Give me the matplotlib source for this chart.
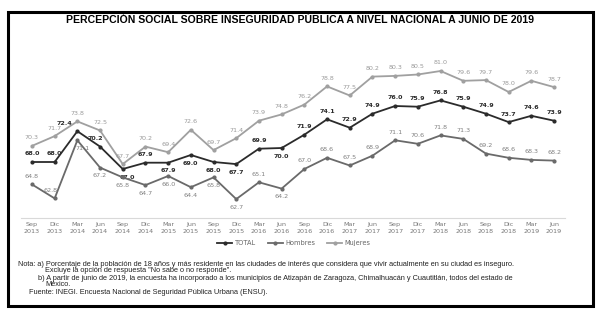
import matplotlib
matplotlib.use("Agg")
import matplotlib.pyplot as plt
from matplotlib.patches import Rectangle

periods = ["Sep\n2013", "Dic\n2013",
           "Mar\n2014", "Jun\n2014", "Sep\n2014", "Dic\n2014",
           "Mar\n2015", "Jun\n2015", "Sep\n2015", "Dic\n2015",
           "Mar\n2016", "Jun\n2016", "Sep\n2016", "Dic\n2016",
           "Mar\n2017", "Jun\n2017", "Sep\n2017", "Dic\n2017",
           "Mar\n2018", "Jun\n2018", "Sep\n2018", "Dic\n2018",
           "Mar\n2019", "Jun\n2019"]

total = [68.0, 68.0, 72.4, 70.2, 67.0, 67.9, 67.9, 69.0, 68.0, 67.7, 69.9, 70.0,
         71.9, 74.1, 72.9, 74.9, 76.0, 75.9, 76.8, 75.9, 74.9, 73.7, 74.6, 73.9]
hombres = [64.8, 62.8, 71.1, 67.2, 65.8, 64.7, 66.0, 64.4, 65.8, 62.7, 65.1, 64.2,
           67.0, 68.6, 67.5, 68.9, 71.1, 70.6, 71.8, 71.3, 69.2, 68.6, 68.3, 68.2]
mujeres = [70.3, 71.7, 73.8, 72.5, 67.7, 70.2, 69.4, 72.6, 69.7, 71.4, 73.9, 74.8,
           76.2, 78.8, 77.5, 80.2, 80.3, 80.5, 81.0, 79.6, 79.7, 78.0, 79.6, 78.7]

# which labels sit under their point
total_below = {4, 6, 7, 8, 9, 11}
hombres_below = {2, 3, 4, 5, 6, 7, 8, 9, 11}
# sideways nudges (points) for crowded labels
total_nudge = {2: -9, 3: -3, 4: 3}
hombres_nudge = {1: -3, 2: 4}

fig = plt.figure(figsize=(5.97, 3.09), dpi=100)
fig.patch.set_facecolor("white")

W, H = 597, 309
ax = fig.add_axes([20.6 / W, 1 - 218 / H, 544.8 / W, 175 / H])
x = list(range(len(periods)))

series = [
    ("TOTAL", total, "#2b2b2b", "#2b2b2b", "bold", total_below, total_nudge),
    ("Hombres", hombres, "#6a6a6a", "#808080", "normal", hombres_below, hombres_nudge),
    ("Mujeres", mujeres, "#a0a0a0", "#9a9a9a", "normal", set(), {}),
]
for name, vals, lc, tc, fw, below, nudge in series:
    ax.plot(x, vals, color=lc, lw=1.3, marker="o", ms=2, label=name, zorder=3)
    for i, v in enumerate(vals):
        if i in below:
            off, va = -4, "top"
        else:
            off, va = 4, "bottom"
        ax.annotate(f"{v:.1f}", (i, v), xytext=(nudge.get(i, 0), off),
                    textcoords="offset points",
                    ha="center", va=va, fontsize=4.6, color=tc, fontweight=fw,
                    family="DejaVu Sans")

ax.set_xlim(-0.5, len(periods) - 0.5)
ax.set_ylim(60, 85)
ax.set_xticks(x)
ax.set_xticklabels(periods, fontsize=4.6, color="#777777", linespacing=1.5)
ax.tick_params(axis="x", length=0, pad=3)
ax.set_yticks([])
for s in ["top", "right", "left"]:
    ax.spines[s].set_visible(False)
ax.spines["bottom"].set_color("#d9d9d9")
ax.spines["bottom"].set_linewidth(0.8)

leg = ax.legend(loc="center", bbox_to_anchor=(294 / W, 1 - 243 / H),
                bbox_transform=fig.transFigure, ncol=3, frameon=False,
                fontsize=4.8, handlelength=2.2, columnspacing=1.8, handletextpad=0.4)
for t in leg.get_texts():
    t.set_color("#666666")

fig.text(300 / W, 1 - 20 / H,
         "PERCEPCIÓN SOCIAL SOBRE INSEGURIDAD PÚBLICA A NIVEL NACIONAL A JUNIO DE 2019",
         ha="center", va="center", fontsize=7.6, fontweight="bold",
         family="Liberation Sans")

notes = [
    (18, 264, "Nota: a) Porcentaje de la población de 18 años y más residente en las ciudades de interés que considera que vivir actualmente en su ciudad es inseguro."),
    (45, 271, "Excluye la opción de respuesta \"No sabe o no responde\"."),
    (38, 278, "b) A partir de junio de 2019, la encuesta ha incorporado a los municipios de Atizapán de Zaragoza, Chimalhuacán y Cuautitlán, todos del estado de"),
    (45, 285, "México."),
    (29, 292, "Fuente: INEGI. Encuesta Nacional de Seguridad Pública Urbana (ENSU)."),
]
for nx, ny, txt in notes:
    fig.text(nx / W, 1 - ny / H, txt, ha="left", va="center", fontsize=5.3,
             color="#222222", family="Liberation Sans")

fig.patches.append(Rectangle((8 / W, 1 - 306 / H), 585 / W, 294 / H,
                             transform=fig.transFigure, fill=False,
                             edgecolor="black", linewidth=2.2))

fig.savefig("out.png", dpi=100, facecolor="white")
